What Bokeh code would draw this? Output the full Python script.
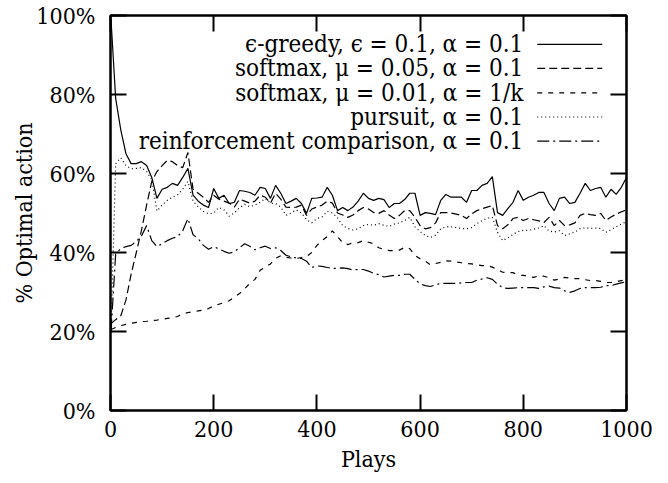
from bokeh.plotting import figure
from bokeh.models import LinearAxis, Range1d, FixedTicker, PrintfTickFormatter, CustomJSTickFormatter, ColumnDataSource
from bokeh.core.properties import value
from bokeh.embed import file_html
from bokeh.resources import INLINE

plays = [1] + list(range(10, 1001, 10))

eps_greedy = [99, 79, 71, 65, 62.5, 62.5, 63, 62, 59, 53.7, 56, 56.5, 57.5, 57, 59, 61.3, 54.5, 53, 52, 51.4,
              56.2, 53.7, 54.5, 52.4, 52.7, 55.7, 55.5, 55.2, 54.5, 56.5, 56.2, 53.7, 57, 55, 52.4, 53, 53.7, 52.4, 49.9, 53.7,
              53.8, 54, 56.5, 54.5, 50.6, 51.4, 50.6, 51.5, 53, 55, 53.7, 53.2, 53.7, 53.4, 51.4, 52.4, 52.4, 53.4, 55, 55,
              49.4, 50.1, 49.9, 49.6, 53.2, 54.7, 54, 54, 54, 52.7, 55.7, 55.7, 57, 57.5, 59.2, 50.1, 49.4, 51.1, 52.7, 55.7,
              53.2, 54, 54.5, 55.2, 55.2, 52.4, 50.6, 53.7, 54, 52.4, 52.7, 55, 57.5, 55.7, 56.2, 56.5, 54, 56, 54.7, 56.5, 59]

softmax_005 = [22, 23, 24, 28, 34.5, 40, 45.6, 52, 58, 60.5, 62, 63.3, 63, 62, 61.5, 65.3, 56, 55, 54, 52.7,
               54.5, 53.5, 53, 52.5, 51.5, 53.5, 53, 52.5, 53, 54.5, 54, 52.5, 55, 53.5, 51.5, 51.4, 51.5, 52, 49.4, 51,
               51.5, 52, 53, 52.5, 50, 49.5, 48.9, 49.5, 50.6, 51.4, 51, 50.1, 49.9, 50.6, 49.5, 48.6, 49.4, 50.6, 50.6, 48.9,
               46.8, 46, 46.3, 47.5, 50.1, 50.1, 50, 49.7, 49.4, 48.6, 49.8, 50.6, 51.1, 51.5, 51.9, 46.8, 46, 47, 48.6, 48.9,
               48.1, 48.6, 48.3, 48, 47.6, 48.9, 46.8, 48.1, 46.8, 47, 47.5, 49.4, 49.9, 49.6, 49.4, 49.9, 48.1, 49, 49.7, 50.3, 50.8]

softmax_001 = [20.5, 21, 21.5, 21.8, 22.1, 22.3, 22.5, 22.6, 22.8, 22.9, 23.1, 23.3, 23.5, 23.8, 24.5, 24.8, 25, 25.2, 25.4, 25.8,
               26.5, 26.9, 27.3, 27.8, 28.7, 29.6, 30.8, 32.2, 33.2, 35.5, 36.3, 37.1, 38.5, 39.2, 38.8, 38.6, 38.5, 38.7, 39, 40,
               41.8, 43, 44, 45.5, 44, 42.5, 42, 42.5, 42.5, 43, 42.6, 42.2, 41.2, 40.8, 40.5, 40.5, 40.6, 41.3, 41, 39.3,
               38.4, 37.8, 36.9, 37.2, 37.5, 37.9, 37.8, 37.6, 37.4, 37.2, 37.1, 36.9, 36.7, 36.7, 36.3, 35.7, 35, 34.9, 34.9, 34.3,
               34.2, 34, 33.7, 34.1, 34, 33.6, 33, 33.3, 33.7, 33.5, 33.4, 33.4, 33.1, 32.9, 32.9, 32.7, 32.4, 32.4, 32.6, 32.9, 33]

pursuit = [20, 62.5, 64, 62, 61.2, 61.3, 61.5, 60.5, 58.5, 50.5, 52, 53.2, 54, 54.6, 56, 58, 53, 51.6, 50.4, 49.8,
           50, 51.4, 50.8, 49.2, 50, 51.3, 52.2, 51.6, 52, 52.7, 53.7, 52.5, 52.4, 51.5, 49.4, 50, 50.8, 50, 48.3, 47.5,
           48.6, 49, 50.4, 50, 48.8, 46.8, 46.1, 45.7, 46, 46.8, 47.1, 46.9, 47.3, 46.9, 46.6, 47.2, 47.5, 48.1, 48.9, 46.5,
           45.3, 44.3, 43.8, 44.4, 46, 46.5, 46.5, 46.3, 46.1, 46, 46.3, 47.3, 48.1, 48.7, 48.9, 45.1, 43, 43.7, 44.6, 45.3,
           45.6, 45.6, 45.9, 46.2, 46.8, 45.4, 45.2, 45.5, 44.3, 44.7, 45.2, 46, 46.3, 46.1, 46.2, 46.1, 45.1, 45.8, 46.5, 47.2, 47.8]

reinforcement = [20, 39.7, 41, 41.5, 41.8, 42.8, 44.2, 46.8, 43, 41.5, 42.2, 43, 43.6, 44, 45.5, 48.6, 44.5, 43.5, 41.8, 40.8,
                 41.5, 40.9, 40.3, 39.8, 40.2, 41.2, 42.2, 41.6, 40.7, 41.2, 41.6, 41, 41.2, 40.5, 39.3, 38.9, 38.6, 38.5, 37.8, 36.2,
                 36.6, 36.5, 36.2, 36, 36, 36.1, 35.9, 35.6, 35.7, 35.7, 35.3, 34.7, 34.4, 33.8, 34, 34.2, 34.2, 34.5, 34.5, 33.2,
                 32.1, 31.6, 31.4, 31.8, 32.2, 32.2, 32.2, 32.2, 32.3, 32.4, 32.4, 33, 33.3, 33.6, 33.2, 32, 31.1, 30.9, 31, 31.1,
                 31.1, 31.1, 31.1, 30.9, 31.3, 31.5, 31.1, 31, 30.3, 29.9, 30.3, 30.9, 31.1, 31.1, 31.1, 31.2, 31.6, 31.6, 32, 32.3, 32.6]

labels = ["ϵ-greedy, ϵ = 0.1, α = 0.1",
          "softmax, μ = 0.05, α = 0.1",
          "softmax, μ = 0.01, α = 1/k",
          "pursuit, α = 0.1",
          "reinforcement comparison, α = 0.1"]
series = [eps_greedy, softmax_005, softmax_001, pursuit, reinforcement]
dashes = ["solid", "8 4", "5 6", "1 3", "12 4 2 4"]

x_ticks = [0, 200, 400, 600, 800, 1000]
y_ticks = [0, 20, 40, 60, 80, 100]

FONT = "DejaVu Serif Condensed"
FS = "23px"

p = figure(width=668, height=483, output_backend="svg", toolbar_location=None,
           x_range=Range1d(0, 1000), y_range=Range1d(0, 100),
           min_border_left=110, min_border_right=42, min_border_top=15, min_border_bottom=73,
           background_fill_color="white", border_fill_color="white")
p.xgrid.visible = False
p.ygrid.visible = False
p.outline_line_color = "black"
p.outline_line_width = 2

def style_axis(ax):
    ax.major_tick_in = 16
    ax.major_tick_out = 0
    ax.minor_tick_line_color = None
    ax.major_tick_line_width = 2
    ax.major_tick_line_color = "black"
    ax.axis_line_width = 2
    ax.axis_line_color = "black"
    ax.major_label_text_font = FONT
    ax.major_label_text_font_size = FS
    ax.major_label_text_color = "black"

p.xaxis.ticker = FixedTicker(ticks=x_ticks)
p.yaxis.ticker = FixedTicker(ticks=y_ticks)
p.yaxis.formatter = PrintfTickFormatter(format="%d%%")
style_axis(p.xaxis[0])
style_axis(p.yaxis[0])
p.xaxis.major_label_standoff = 10
p.yaxis.major_label_standoff = 15
p.xaxis.axis_label = "Plays"
p.yaxis.axis_label = "% Optimal action"
for ax in (p.xaxis[0], p.yaxis[0]):
    ax.axis_label_text_font = FONT
    ax.axis_label_text_font_size = FS
    ax.axis_label_text_font_style = "normal"
    ax.axis_label_text_color = "black"
p.xaxis.axis_label_standoff = 6
p.yaxis.axis_label_standoff = -4

# mirrored ticks on the right and top (no labels), gnuplot style
for loc, ticks in (("right", y_ticks), ("above", x_ticks)):
    ax = LinearAxis(ticker=FixedTicker(ticks=ticks), formatter=CustomJSTickFormatter(code="return ''"))
    style_axis(ax)
    ax.major_label_standoff = 0
    p.add_layout(ax, loc)

for vals, dash in zip(series, dashes):
    p.line(plays, vals, line_color="black", line_width=1.2, line_dash=dash)

# legend (gnuplot style: right-aligned text, sample line to the right)
leg_y = [92.7, 86.6, 80.4, 74.3, 68.2]
text_src = ColumnDataSource(data=dict(x=[800] * 5, y=leg_y, t=labels))
p.text(x="x", y="y", text="t", source=text_src, text_align="right", text_baseline="middle",
       text_font=value(FONT), text_font_size="24px", text_color="black")
for yy, dash in zip(leg_y, dashes):
    p.line([827, 953], [yy, yy], line_color="black", line_width=1.2, line_dash=dash)

open("out.html", "w").write(file_html(p, INLINE))
